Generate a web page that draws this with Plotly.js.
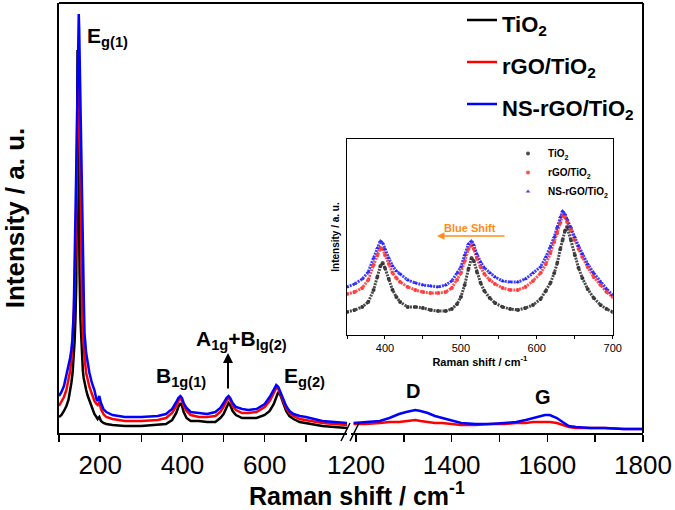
<!DOCTYPE html>
<html><head><meta charset="utf-8">
<script src="https://cdn.plot.ly/plotly-3.0.1.min.js"></script>
<style>html,body{margin:0;padding:0;background:#fff}#chart{width:675px;height:510px}</style>
</head><body><div id="chart"></div>
<script>
// ---------- main spectrum, low-wavenumber segment (cm-1) ----------
const shiftLow = [100,106,112,118,123,127,130,133,136,138,140,141,142,143,144,145,146,147,148,149,150,152,154,156,158,160,162,166,170,174,180,186,191,194,198,202,208,215,230,260,300,340,360,375,385,390,395,399,403,410,420,440,460,480,492,500,507,512,516,522,530,545,560,580,600,612,622,628,633,638,645,652,660,670,685,700,740,800];
const tio2Low  = [16,18,22,27,33,42,50,60,75,92,115,130,150,220,320,383,330,270,220,190,160,115,92,75,62,55,50,43,37,32,25,19,16,14,16,12,10,9,8,7,7,8,9,13,20,26,30,27,21,15,12,12,11,11,15,19,25,30,28,22,18,15,15,15,18,22,29,35,41,38,30,22,17,14,11,10,7,5];
const rgoLow   = [27,31,36,43,52,62,72,93,120,150,180,195,210,240,280,320,350,370,378,360,320,260,200,130,100,85,76,60,52,46,39,32,29,28,31,24,19,16,14,12,12,13,15,20,27,32,35,32,27,22,18,16,16,17,21,26,32,35,33,27,23,20,20,21,26,32,40,45,44,39,31,25,20,17,14,13,10,8];
const nsLow    = [37,41,47,58,66,75,83,95,125,190,220,240,265,290,320,350,380,405,419,405,385,330,275,230,190,140,100,80,68,60,50,43,34,32,37,30,24,21,18,16,16,17,19,24,31,35,37,35,30,25,21,20,19,21,25,30,35,37,35,30,26,24,23,24,29,36,44,48,46,41,33,27,22,19,17,16,12,10];

// ---------- main spectrum, high-wavenumber segment (D and G bands) ----------
const shiftHigh = [1195,1220,1250,1270,1290,1305,1315,1324,1335,1350,1365,1380,1400,1420,1450,1480,1510,1535,1555,1570,1585,1595,1605,1620,1632,1645,1660,1690,1720,1760,1800];
const rgoHigh   = [9,9,10,11,11,12,12,13,12,11,10,10,9,8,8,9,9,10,10,11,11,11,11,10,8,6,5,5,5,4,4];
const nsHigh    = [10,11,12,15,19,21,22,23,22,20,17,15,12,10,9,9,10,11,13,15,17,18,18,15,11,7,6,5,5,4,4];

// ---------- inset (350-700 cm-1) ----------
const shiftInset = [350,360,370,378,385,390,394,397,400,405,410,415,420,430,440,450,460,470,480,488,495,500,505,510,514,517,521,526,531,538,545,555,565,575,585,595,605,612,618,623,627,631,634,637,640,645,650,655,660,667,675,684,692,700];
const tio2Inset = [23,25,28,33,45,58,69,72,67,56,45,38,33,28,28,27,25,24,24,26,31,38,50,66,77,74,63,52,44,37,32,28,26,25,27,30,36,44,52,62,72,86,95,104,108,95,80,67,57,46,37,30,26,23];
const rgoInset  = [41,43,47,55,70,80,87,86,80,71,62,57,53,48,45,43,42,42,43,47,55,62,74,86,90,86,77,68,61,55,51,47,45,45,48,54,62,71,82,93,102,112,120,118,113,105,95,86,78,68,58,50,43,38];
const nsInset   = [48,51,56,63,77,87,94,92,86,77,69,64,61,55,52,50,49,48,50,54,62,68,80,91,94,90,81,73,67,62,58,54,53,53,56,62,68,78,88,98,108,118,124,121,116,108,98,89,81,71,62,53,46,40];

const seriesNames = ['TiO<sub>2</sub>', 'rGO/TiO<sub>2</sub>', 'NS-rGO/TiO<sub>2</sub>'];
const lineColors = ['#000000', '#ff0000', '#0000ff'];
const insetColors = ['rgba(45,45,45,0.85)', 'rgba(255,50,50,0.85)', 'rgba(30,30,255,0.85)'];
const insetSymbols = ['circle', 'circle', 'triangle-up'];

const FONT = 'Liberation Sans, Arial, Helvetica, sans-serif';
// pixel -> paper helpers (plot area: x 59..643, y 3..433)
const PX = x => (x - 59) / 584;
const PY = y => (433 - y) / 430;

const lowY = [tio2Low, rgoLow, nsLow];
const traces = [];
lowY.forEach((ys, i) => traces.push({
  x: shiftLow, y: ys, xaxis: 'x', yaxis: 'y', mode: 'lines', type: 'scatter',
  name: '<span style="font-size:22px"><b>' + seriesNames[i] + '</b></span>', legend: 'legend',
  line: {color: lineColors[i], width: 2.5}
}));
[[rgoHigh, 1], [nsHigh, 2]].forEach(([ys, i]) => traces.push({
  x: shiftHigh, y: ys, xaxis: 'x2', yaxis: 'y', mode: 'lines', type: 'scatter',
  showlegend: false, line: {color: lineColors[i], width: 2.5}
}));
const insetY = [tio2Inset, rgoInset, nsInset];
insetY.forEach((ys, i) => traces.push({
  x: shiftInset, y: ys, xaxis: 'x3', yaxis: 'y3', mode: 'lines', type: 'scatter',
  showlegend: false, line: {color: insetColors[i], width: 3, dash: '2px,1px'}
}));
insetY.forEach((ys, i) => traces.push({
  x: shiftInset, y: ys, xaxis: 'x3', yaxis: 'y3', mode: 'markers', type: 'scatter',
  name: '<b>' + seriesNames[i] + '</b>', legend: 'legend2',
  marker: {color: insetColors[i], size: 4, symbol: insetSymbols[i]}
}));

const axisBase = {showline: true, linecolor: '#000', linewidth: 2, showgrid: false, zeroline: false,
  ticks: 'outside', ticklen: 7, tickwidth: 1.5, tickcolor: '#000',
  tickfont: {family: FONT, size: 26, color: '#000'}, ticklabelstandoff: 1};

const layout = {
  width: 675, height: 510,
  margin: {l: 59, r: 32, t: 3, b: 77, autoexpand: false},
  paper_bgcolor: '#fff', plot_bgcolor: '#fff',
  font: {family: FONT, color: '#000'},
  xaxis: Object.assign({}, axisBase, {domain: [0, 0.4932], range: [100, 800], anchor: 'y',
    tickvals: [100,200,300,400,500,600,700], ticktext: ['', '200', '', '400', '', '600', '']}),
  xaxis2: Object.assign({}, axisBase, {domain: [0.5003, 1], range: [1190, 1800], anchor: 'y',
    tickvals: [1200,1300,1400,1500,1600,1700,1800], ticktext: ['1200', '', '1400', '', '1600', '', '1800']}),
  yaxis: {domain: [0, 1], range: [0, 430], showline: true, linecolor: '#000', linewidth: 2,
    showgrid: false, zeroline: false, ticks: '', showticklabels: false,
    title: {text: '<b>Intensity / a. u.</b>', font: {family: FONT, size: 26}, standoff: 30}},
  xaxis3: {domain: [PX(347), PX(612.7)], anchor: 'y3', range: [350, 700],
    showline: true, mirror: true, linecolor: '#000', linewidth: 1, showgrid: false, zeroline: false,
    ticks: 'outside', ticklen: 3, tickwidth: 1, tickcolor: '#000',
    tickvals: [350,400,450,500,550,600,650,700], ticktext: ['', '400', '', '500', '', '600', '', '700'],
    tickfont: {family: FONT, size: 11, color: '#000'},
    title: {text: '<b>Raman shift / cm<sup>-1</sup></b>', font: {family: FONT, size: 11}, standoff: 3}},
  yaxis3: {domain: [PY(335), PY(139)], anchor: 'x3', range: [0, 196],
    showline: true, mirror: true, linecolor: '#000', linewidth: 1, showgrid: false, zeroline: false,
    ticks: '', showticklabels: false,
    title: {text: '<b>Intensity / a. u.</b>', font: {family: FONT, size: 10}, standoff: 4}},
  legend: {x: PX(462), y: PY(-6), xanchor: 'left', yanchor: 'top', bgcolor: 'rgba(0,0,0,0)',
    font: {family: FONT, size: 30, color: '#000'}, traceorder: 'normal', itemclick: false},
  legend2: {x: PX(508), y: PY(139), xanchor: 'left', yanchor: 'top', bgcolor: 'rgba(0,0,0,0)',
    font: {family: FONT, size: 10, color: '#000'}, traceorder: 'normal', itemclick: false},
  shapes: [
    {type: 'line', xref: 'paper', yref: 'paper', x0: 0, x1: 1, y0: 1, y1: 1, line: {color: '#000', width: 2}},
    {type: 'line', xref: 'paper', yref: 'paper', x0: 1, x1: 1, y0: 0, y1: 1, line: {color: '#000', width: 2}},
    {type: 'line', xref: 'paper', yref: 'paper', x0: PX(341), x1: PX(350), y0: PY(441), y1: PY(423), line: {color: '#000', width: 1.5}},
    {type: 'line', xref: 'paper', yref: 'paper', x0: PX(350), x1: PX(359), y0: PY(441), y1: PY(423), line: {color: '#000', width: 1.5}}
  ],
  annotations: [
    {text: '<b>E<sub>g(1)</sub></b>', x: PX(85), y: PY(37), xref: 'paper', yref: 'paper', xanchor: 'left', yanchor: 'middle', showarrow: false, font: {size: 21}},
    {text: '<b>B<sub>1g(1)</sub></b>', x: PX(154), y: PY(377), xref: 'paper', yref: 'paper', xanchor: 'left', yanchor: 'middle', showarrow: false, font: {size: 21}},
    {text: '<b>A<sub>1g</sub>+B<sub>lg(2)</sub></b>', x: PX(194), y: PY(340), xref: 'paper', yref: 'paper', xanchor: 'left', yanchor: 'middle', showarrow: false, font: {size: 21}},
    {text: '<b>E<sub>g(2)</sub></b>', x: PX(282), y: PY(377), xref: 'paper', yref: 'paper', xanchor: 'left', yanchor: 'middle', showarrow: false, font: {size: 21}},
    {text: '<b>D</b>', x: PX(413), y: PY(391), xref: 'paper', yref: 'paper', xanchor: 'center', yanchor: 'middle', showarrow: false, font: {size: 20}},
    {text: '<b>G</b>', x: PX(543), y: PY(397), xref: 'paper', yref: 'paper', xanchor: 'center', yanchor: 'middle', showarrow: false, font: {size: 20}},
    {text: '', x: PX(228), y: PY(353), xref: 'paper', yref: 'paper', ax: 0, ay: 37, showarrow: true, arrowhead: 2, arrowsize: 1, arrowwidth: 2, arrowcolor: '#000'},
    {text: '<b>Blue Shift</b>', x: PX(470), y: PY(228), xref: 'paper', yref: 'paper', xanchor: 'center', yanchor: 'middle', showarrow: false, font: {size: 11, color: '#ff8c1a'}},
    {text: '', x: PX(437), y: PY(236), xref: 'paper', yref: 'paper', ax: 69, ay: 0, showarrow: true, arrowhead: 2, arrowsize: 1, arrowwidth: 1.5, arrowcolor: '#ff8c1a'},
    {text: '<b>Raman shift / cm<sup>-1</sup></b>', x: PX(357), y: PY(494), xref: 'paper', yref: 'paper', xanchor: 'center', yanchor: 'middle', showarrow: false, font: {size: 25}}
  ]
};

Plotly.newPlot('chart', traces, layout, {displayModeBar: false, staticPlot: true});
</script>
</body></html>
